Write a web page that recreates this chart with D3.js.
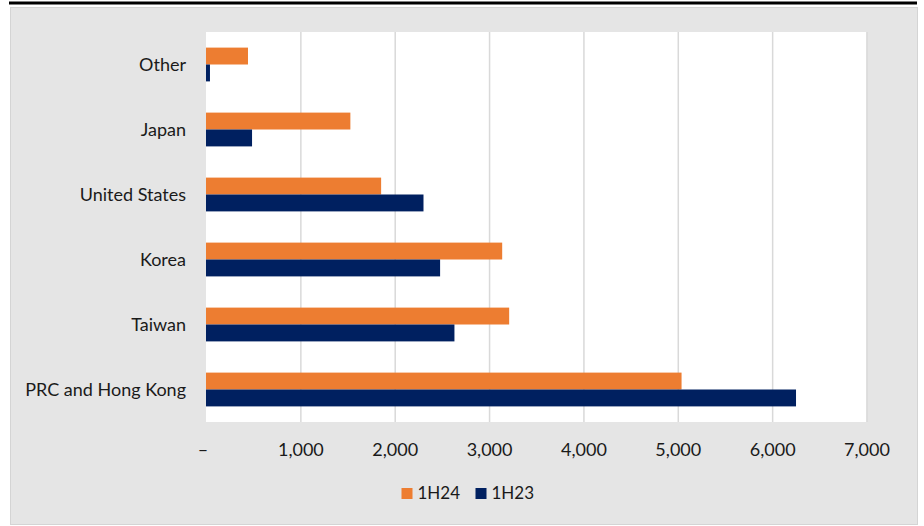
<!DOCTYPE html>
<html>
<head>
<meta charset="utf-8">
<script src="https://cdn.jsdelivr.net/npm/d3@7/dist/d3.min.js"></script>
<style>
  html, body { margin: 0; padding: 0; background: #ffffff; }
  svg { display: block; }
  text { font-family: Lato, "Open Sans", sans-serif; fill: #1a1a1a; }
</style>
</head>
<body>
<svg id="chart" width="924" height="526"></svg>
<script>
// ---- data ----
const categories = ["Other", "Japan", "United States", "Korea", "Taiwan", "PRC and Hong Kong"];
const series = ["1H24", "1H23"];
const values1H24 = [445, 1530, 1856, 3139, 3213, 5040];
const values1H23 = [42, 488, 2305, 2481, 2633, 6253];
const xTicks = [0, 1000, 2000, 3000, 4000, 5000, 6000, 7000];
const colors = ["#ED7D31", "#002060"];

// ---- layout ----
const W = 924, H = 526;
const plot = { left: 206, right: 866.5, top: 32, bottom: 422 };

const svg = d3.select("#chart");

// top black rule
svg.append("rect").attr("x", 9).attr("y", 1.5).attr("width", 908).attr("height", 3).attr("fill", "#000");
// grey panel
svg.append("rect").attr("x", 10.5).attr("y", 7.5).attr("width", 907).attr("height", 517)
  .attr("fill", "#e5e5e5").attr("stroke", "#d4d4d4").attr("stroke-width", 1);
// white plot area
svg.append("rect").attr("x", plot.left).attr("y", plot.top)
  .attr("width", plot.right - plot.left).attr("height", plot.bottom - plot.top).attr("fill", "#fff");

const x = d3.scaleLinear().domain([0, 7000]).range([plot.left, plot.right]);
const y = d3.scaleBand().domain(categories).range([plot.top, plot.bottom])
  .paddingInner(0.48).paddingOuter(0.24);
const ySub = d3.scaleBand().domain(series).range([0, y.bandwidth()]);

// gridlines
const grid = svg.append("g").attr("transform", `translate(0,${plot.bottom})`)
  .call(d3.axisBottom(x).tickValues(xTicks.filter(d => d > 0)).tickSize(-(plot.bottom - plot.top)).tickFormat(""));
grid.select(".domain").remove();
grid.selectAll(".tick line").attr("stroke", "#d9d9d9").attr("stroke-width", 1.5);

// bars
const rows = categories.map((c, i) => ({ cat: c, vals: [values1H24[i], values1H23[i]] }));
const g = svg.append("g");
rows.forEach(r => {
  r.vals.forEach((v, j) => {
    g.append("rect")
      .attr("x", x(0))
      .attr("y", y(r.cat) + ySub(series[j]))
      .attr("width", x(v) - x(0))
      .attr("height", ySub.bandwidth())
      .attr("fill", colors[j]);
  });
});

// x axis labels
const xa = svg.append("g").attr("transform", `translate(0,${plot.bottom})`)
  .call(d3.axisBottom(x).tickValues(xTicks).tickSize(0).tickPadding(0)
    .tickFormat(d => d === 0 ? "\u2013" : d3.format(",")(d)));
xa.select(".domain").remove();
xa.selectAll(".tick text")
  .attr("y", 34).attr("dy", 0)
  .attr("dx", d => d === 0 ? -3.5 : 0)
  .style("font-size", "18px").attr("fill", "#1a1a1a");

// y axis labels
const ya = svg.append("g").attr("transform", `translate(${plot.left},0)`)
  .call(d3.axisLeft(y).tickSize(0).tickPadding(20));
ya.select(".domain").remove();
ya.selectAll(".tick text").attr("dy", "0.35em").style("font-size", "18px").attr("fill", "#1a1a1a");

// legend
const legendItems = [
  { label: series[0], color: colors[0], x: 401.5 },
  { label: series[1], color: colors[1], x: 475.5 }
];
const lg = svg.append("g");
legendItems.forEach(it => {
  lg.append("rect").attr("x", it.x).attr("y", 488).attr("width", 11).attr("height", 11).attr("fill", it.color);
  lg.append("text").attr("x", it.x + 16).attr("y", 499).text(it.label).style("font-size", "17px");
});
</script>
</body>
</html>
